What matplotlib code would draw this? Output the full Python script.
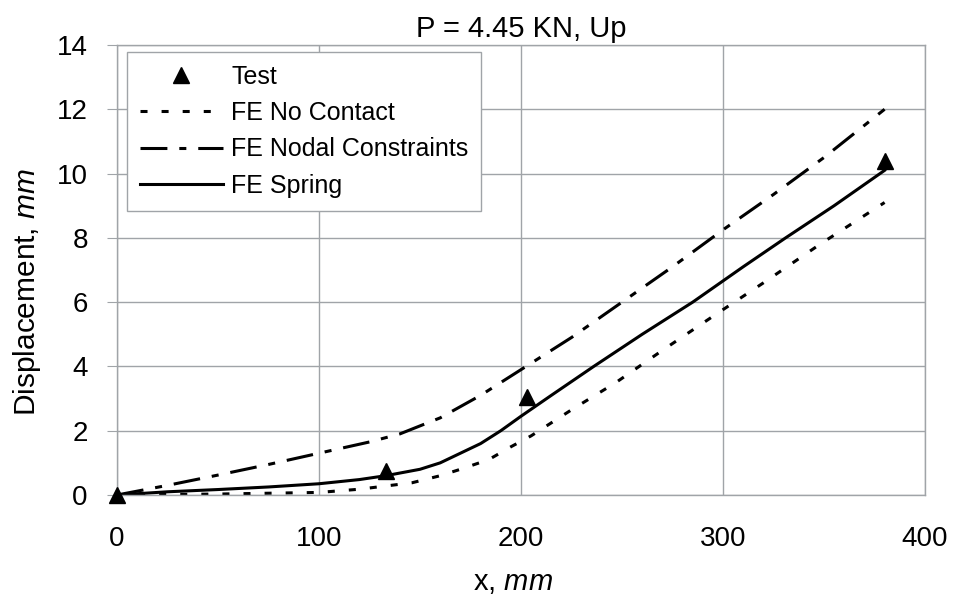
import matplotlib
matplotlib.use("Agg")
import matplotlib.pyplot as plt

plt.rcParams['font.family'] = ['Liberation Sans', 'DejaVu Sans']
plt.rcParams['mathtext.fontset'] = 'custom'
plt.rcParams['mathtext.it'] = 'Liberation Sans:italic'
plt.rcParams['mathtext.rm'] = 'Liberation Sans'

# Data
x_test = [0, 133, 203, 380]
y_test = [0, 0.75, 3.05, 10.4]

x_nocontact = [0, 50, 100, 120, 133, 146, 160, 170, 184, 195, 205, 225, 247, 270, 296, 320, 348, 380]
y_nocontact = [0, 0.03, 0.08, 0.18, 0.28, 0.38, 0.6, 0.8, 1.1, 1.5, 1.84, 2.65, 3.5, 4.5, 5.6, 6.6, 7.8, 9.1]

x_nodal = [0, 25, 50, 75, 100, 125, 140, 160, 180, 200, 225, 250, 275, 300, 325, 350, 380]
y_nodal = [0, 0.3, 0.62, 0.95, 1.3, 1.65, 1.9, 2.4, 3.1, 3.9, 4.9, 6.0, 7.1, 8.25, 9.35, 10.5, 12.0]

x_spring = [0, 25, 50, 75, 100, 120, 133, 150, 160, 170, 180, 190, 200, 215, 236, 260, 285, 310, 331, 355, 380]
y_spring = [0, 0.1, 0.17, 0.25, 0.35, 0.48, 0.6, 0.8, 1.0, 1.3, 1.6, 2.0, 2.45, 3.1, 4.0, 5.0, 6.0, 7.1, 8.0, 9.0, 10.1]

x_ticks = [0, 100, 200, 300, 400]
y_ticks = [0, 2, 4, 6, 8, 10, 12, 14]

fig = plt.figure(figsize=(9.57, 5.99), dpi=100)
ax = fig.add_axes([117/957, 1 - 495/599, (925-117)/957, (495-45)/599])

lw = 2.2
ax.plot(x_test, y_test, linestyle='none', marker='^', color='black', markersize=12, label='Test', zorder=5, clip_on=False)
ax.plot(x_nocontact, y_nocontact, color='black', lw=lw, dashes=(2.3, 4.6), label='FE No Contact')
ax.plot(x_nodal, y_nodal, color='black', lw=lw, dashes=(8.8, 3.9, 2.3, 3.9), label='FE Nodal Constraints')
ax.plot(x_spring, y_spring, color='black', lw=lw, label='FE Spring')

ax.set_xlim(0, 400)
ax.set_ylim(0, 14)
ax.set_xticks(x_ticks)
ax.set_yticks(y_ticks)
ax.grid(True, color='#a0a4a8', lw=1.0)
for s in ax.spines.values():
    s.set_color('#a0a4a8')
    s.set_linewidth(1.0)
ax.tick_params(axis='y', length=7, color='#a0a4a8', labelsize=20, pad=14)
ax.tick_params(axis='x', length=0, labelsize=20, pad=22)

ax.set_title('P = 4.45 KN, Up', fontsize=21, pad=6)
ax.set_xlabel(r'x, $\mathit{mm}$', fontsize=21)
ax.set_ylabel(r'Displacement, $\mathit{mm}$', fontsize=21.5, labelpad=10)
ax.xaxis.set_label_coords(0.49, -0.163)
ax.yaxis.label.set_y(0.45)

leg = ax.legend(loc='upper left', bbox_to_anchor=(10/808, 1 - 7/450), borderaxespad=0,
                fontsize=18, handlelength=3.35, handletextpad=0.32, numpoints=1,
                fancybox=False, framealpha=1, edgecolor='#a0a4a8', labelspacing=0.5,
                borderpad=0.5)
leg.get_frame().set_linewidth(1.0)

fig.savefig('out.png', dpi=100)
